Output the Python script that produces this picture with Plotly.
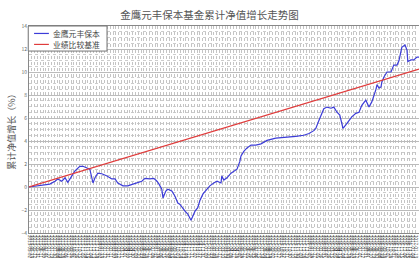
import plotly.graph_objects as go
import pandas as pd

# trading-day offsets and cumulative NAV growth (%)
fund_days = [0, 12, 27, 40, 52, 65, 72, 82, 90, 97, 107, 115, 127, 135, 145, 152, 160, 165, 172, 182,
             195, 207, 215, 222, 235, 247, 260, 270, 282, 290, 302, 312, 320, 325, 332, 335, 342, 347,
             357, 365, 372, 377, 385, 390, 397, 405, 410, 415, 422, 427, 435, 445, 452, 462, 470, 480,
             482, 487, 495, 505, 512, 520, 527, 530, 537, 545, 555, 567, 580, 595, 617, 642, 667, 687,
             700, 712, 717, 725, 732, 737, 745, 755, 762, 770, 777, 782, 785, 792, 800, 807, 817, 825,
             832, 842, 850, 857, 867, 870, 875, 880, 882, 887, 895, 905, 912, 920, 925, 932, 940, 945,
             947, 955, 962, 970, 975]
fund_vals = [0, 0.05, 0.1, 0.15, 0.25, 0.5, 0.7, 0.5, 0.8, 0.4, 0.95, 1.4, 1.8, 1.8, 1.65, 1.55, 0.35,
             0.8, 1.2, 1.15, 0.95, 0.7, 0.7, 0.35, 0.1, 0.1, 0.25, 0.35, 0.5, 0.75, 0.7, 0.75, 0.5, 0.25,
             -0.2, -0.95, -0.35, -0.2, -0.35, -0.8, -1.4, -1.5, -1.9, -2.1, -2.35, -2.9, -2.5, -2.1, -1.8,
             -1.2, -0.6, -0.2, 0.1, 0.35, 0.5, 0.35, 0.95, 0.6, 0.8, 1.2, 1.4, 1.55, 2.2, 2.7, 3.1, 3.4,
             3.65, 3.65, 3.75, 4.05, 4.25, 4.3, 4.4, 4.5, 4.65, 4.9, 5.1, 5.8, 6.4, 6.8, 6.95, 6.85, 6.95,
             6.5, 6.25, 5.4, 5.1, 5.4, 5.8, 6.1, 6.4, 6.5, 7.1, 7.55, 6.95, 7.4, 8.45, 8.9, 8.6, 8.7, 9.1,
             9.55, 10.0, 10.0, 10.6, 10.6, 11.0, 12.15, 12.35, 11.9, 10.9, 11.05, 11.05, 11.3, 11.3]

bench_days = [0, 975]
bench_vals = [0, 10.25]

series_names = ["金鹰元丰保本", "业绩比较基准"]
series_colors = ["#3c3cd8", "#e03c3c"]
title_text = "金鹰元丰保本基金累计净值增长走势图"
y_title = "累计净值增长（%）"

all_dates = pd.bdate_range("2013-05-02", periods=976).strftime("%Y-%m-%d").tolist()
tick_vals = list(range(0, 976, 7))
tick_text = [all_dates[i] for i in tick_vals]

FONT = "Noto Sans CJK SC"

fig = go.Figure()
fig.add_trace(go.Scatter(x=fund_days, y=fund_vals, mode="lines", name=series_names[0],
                         line=dict(color=series_colors[0], width=1.2)))
fig.add_trace(go.Scatter(x=bench_days, y=bench_vals, mode="lines", name=series_names[1],
                         line=dict(color=series_colors[1], width=1.2)))

# compact legend box (paper coordinates of the plot area)
fig.add_shape(type="rect", xref="paper", yref="paper", x0=-0.002, x1=0.2, y0=0.879, y1=1.0,
              line=dict(color="#777", width=1), fillcolor="white", layer="above")
legend_rows = [0.964, 0.911]
for name, color, yy in zip(series_names, series_colors, legend_rows):
    fig.add_shape(type="line", xref="paper", yref="paper", x0=0.013, x1=0.051, y0=yy, y1=yy,
                  line=dict(color=color, width=1.2), layer="above")
    fig.add_annotation(xref="paper", yref="paper", x=0.058, y=yy, text=name, showarrow=False,
                       xanchor="left", yanchor="middle", borderpad=0,
                       font=dict(size=7.8, color="#444", family=FONT))

fig.update_layout(
    width=419, height=262,
    margin=dict(l=29, r=0, t=26, b=29, autoexpand=False),
    paper_bgcolor="white", plot_bgcolor="white",
    font=dict(family=FONT, color="#555"),
    title=dict(text=title_text, x=0.5, xanchor="center", y=1 - 15 / 262, yanchor="middle",
               yref="container", font=dict(size=10.5, color="#555", family=FONT)),
    showlegend=False,
)
fig.update_xaxes(range=[0, 975], tickmode="array", tickvals=tick_vals, ticktext=tick_text,
                 tickangle=90, tickfont=dict(size=4.5, color="#222"), showgrid=True,
                 gridcolor="#c4c4c4", griddash="dot", gridwidth=1, showline=True,
                 linecolor="#888", mirror=True, ticks="", zeroline=False, automargin=False)
fig.update_yaxes(range=[-4, 14], dtick=2, tickfont=dict(size=5, color="#666"), showgrid=True,
                 gridcolor="#bbb", gridwidth=1, showline=True, linecolor="#888", mirror=True,
                 zeroline=False, ticks="", automargin=False,
                 minor=dict(dtick=0.5, showgrid=True, gridcolor="#ccc", griddash="dot"),
                 title=dict(text=y_title, font=dict(size=9, color="#555"), standoff=4))

fig.write_html("out.html", config={"displayModeBar": False},
               post_script="document.body.style.margin='0';document.body.style.overflow='hidden';")
